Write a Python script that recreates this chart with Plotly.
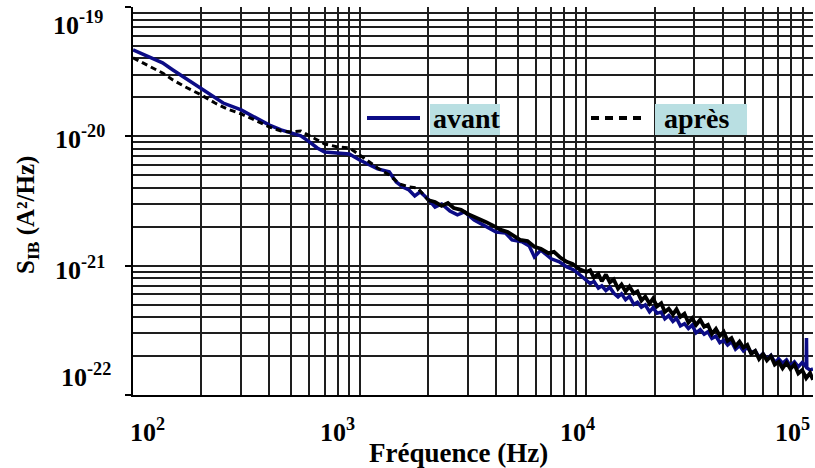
import plotly.graph_objects as go

# ---------------- data ----------------
freq_avant = [100, 110, 120, 135, 150, 170, 200, 220, 250, 300,
              350, 400, 450, 500, 550, 600, 650, 700, 800, 900,
              1000, 1100, 1200, 1350, 1450, 1550, 1650, 1750, 1850, 2000,
              2150, 2300, 2500, 2700, 2900, 3200, 3600, 4000, 4400, 4700,
              5200, 5600, 5900, 6300, 7000, 7600, 8200, 8800, 9500,
              10000, 10400, 10800, 11300, 11700, 12200, 12700, 13200, 13800, 14300,
              14900, 15500, 16200, 16800, 17500, 18200, 19000, 19700, 20500, 21400,
              22200, 23100, 24100, 25000, 26000, 27100, 28200, 29300, 30500, 31800,
              33100, 34400, 35800, 37300, 38800, 40400, 42000, 43700, 45500, 47400,
              49300, 51300, 53400, 55600, 57800, 60200, 62600, 65200, 67800, 70600,
              73400, 76400, 79500, 82800, 86100, 89600, 93300, 93600, 93900, 97100,
              100000]
# S_IB in units of 1e-22 A^2/Hz
s_avant_e22 = [466, 434, 404, 370, 326, 283, 237, 209, 181, 160,
               139, 122, 112, 106, 101, 90.6, 81.3, 75.7, 74.5, 73.1,
               65.6, 60.1, 56.0, 53.1, 44.4, 40.6, 38.5, 34.6, 37.2, 32.8,
               28.4, 30.0, 26.5, 24.7, 26.0, 22.5, 20.3, 18.2, 17.9, 15.8,
               15.3, 14.2, 11.7, 13.2, 11.3, 10.7, 9.77, 9.27, 8.32,
               7.75, 7.26, 7.56, 6.71, 6.99, 6.43, 6.81, 6.14, 5.73, 6.06,
               5.46, 5.78, 5.02, 5.22, 4.78, 4.98, 4.40, 4.74, 4.28, 4.37,
               3.88, 4.11, 3.71, 3.93, 3.42, 3.56, 3.27, 3.47, 3.02, 3.20,
               2.95, 3.08, 2.74, 2.85, 2.54, 2.65, 2.44, 2.59, 2.26, 2.41,
               2.19, 2.34, 2.13, 2.19, 1.96, 2.09, 1.90, 2.03, 1.79, 1.90,
               1.76, 1.87, 1.68, 1.80, 1.65, 1.78, 1.65, 2.76, 1.62, 1.56,
               1.59]

freq_apres = [100, 110, 120, 135, 150, 170, 200, 230, 260, 300,
              350, 400, 450, 500, 550, 600, 650, 700, 800, 900,
              1000, 1100, 1200, 1350, 1500, 1650, 1800, 1900, 2000, 2150,
              2300, 2450, 2600, 2800, 3000, 3300, 3600, 3900, 4200, 4500,
              4800, 5100, 5500, 5900, 6300, 6800, 7200, 7700, 8200, 8700,
              9300,
              10000, 10400, 10800, 11300, 11700, 12200, 12700, 13200, 13800, 14300,
              14900, 15500, 16200, 16800, 17500, 18200, 19000, 19700, 20500, 21400,
              22200, 23100, 24100, 25000, 26000, 27100, 28200, 29300, 30500, 31800,
              33100, 34400, 35800, 37300, 38800, 40400, 42000, 43700, 45500, 47400,
              49300, 51300, 53400, 55600, 57800, 60200, 62600, 65200, 67800, 70600,
              73400, 76400, 79500, 82800, 86100, 89600, 93300, 97100, 100000]
s_apres_e22 = [404, 370, 344, 309, 273, 241, 209, 181, 163, 149,
               132, 118, 110, 108, 110, 101, 93.8, 87.3, 82.8, 81.3,
               71.8, 63.4, 57.0, 50.2, 42.9, 40.6, 39.9, 35.9, 32.2, 31.1,
               29.0, 30.5, 27.9, 27.0, 25.1, 23.4, 21.8, 20.3, 18.9, 18.2,
               17.0, 15.8, 15.5, 14.0, 13.5, 12.5, 12.8, 11.5, 10.7, 10.3,
               9.42,
               8.94, 9.21, 8.09, 8.63, 7.57, 8.53, 7.43, 7.83, 6.66, 7.15,
               6.32, 6.90, 6.10, 6.32, 5.37, 5.77, 5.09, 5.57, 4.84, 5.13,
               4.39, 4.65, 4.20, 4.61, 4.02, 4.25, 3.64, 3.93, 3.48, 3.82,
               3.37, 3.49, 2.97, 3.25, 2.87, 3.08, 2.62, 2.75, 2.38, 2.59,
               2.33, 2.44, 2.08, 2.19, 1.90, 2.07, 1.85, 2.00, 1.72, 1.81,
               1.61, 1.78, 1.59, 1.72, 1.47, 1.56, 1.35, 1.48, 1.31]

x_tick_vals = [1e2, 1e3, 1e4, 1e5]
x_tick_text = ["10<sup>2</sup>", "10<sup>3</sup>", "10<sup>4</sup>", "10<sup>5</sup>"]
y_tick_vals = [1e-19, 1e-20, 1e-21, 1e-22]
y_tick_text = ["10<sup>-19</sup>", "10<sup>-20</sup>", "10<sup>-21</sup>", "10<sup>-22</sup>"]

series_names = ["avant", "après"]
UNIT = 1e-22
# above this frequency the noisy "après" record renders as a continuous band
DENSE_FROM_HZ = 2000

# ---------------- layout helpers ----------------
W, H = 815, 468
L, R, T, B = 133, 2, 7, 73
PW, PH = W - L - R, H - T - B


def px(x):
    return (x - L) / PW


def py(y):
    return (H - B - y) / PH


FONT = "Liberation Serif"
BLUE = "#0c0c86"
GRID = "#1e1e1e"
BOXBG = "#b9dfe2"

s_avant = [v * UNIT for v in s_avant_e22]
s_apres = [v * UNIT for v in s_apres_e22]
split = next(i for i, f in enumerate(freq_apres) if f >= DENSE_FROM_HZ)

fig = go.Figure()
fig.add_trace(go.Scatter(
    x=freq_avant, y=s_avant, mode="lines",
    name=series_names[0], line=dict(color=BLUE, width=3.5), showlegend=False))
fig.add_trace(go.Scatter(
    x=freq_apres[:split + 1], y=s_apres[:split + 1], mode="lines",
    name=series_names[1], legendgroup="apres",
    line=dict(color="black", width=3, dash="6px,4px"), showlegend=False))
fig.add_trace(go.Scatter(
    x=freq_apres[split:], y=s_apres[split:], mode="lines",
    name=series_names[1], legendgroup="apres",
    line=dict(color="black", width=3.8), showlegend=False))

axis_common = dict(
    type="log", showgrid=True, gridcolor=GRID, gridwidth=1.5,
    dtick=1, showticklabels=False, zeroline=False,
    showline=True, linecolor="black", linewidth=2,
    minor=dict(dtick="D1", showgrid=True, gridcolor=GRID, gridwidth=1.5, ticks=""),
)

annotations = []
# x tick labels (placed as in the reference)
x_label_left_px = [128, 318, 558, 773]
for v, t, lx in zip(x_tick_vals, x_tick_text, x_label_left_px):
    annotations.append(dict(
        x=px(lx), y=py(412), xref="paper", yref="paper", xanchor="left", yanchor="top",
        text="<b>" + t + "</b>", showarrow=False,
        font=dict(family=FONT, size=26, color="black")))
# y tick labels
y_label_right_px = [105, 107, 107, 113]
y_label_center_px = [24, 137, 268, 375]
for v, t, rx, cy in zip(y_tick_vals, y_tick_text, y_label_right_px, y_label_center_px):
    annotations.append(dict(
        x=px(rx), y=py(cy), xref="paper", yref="paper", xanchor="right", yanchor="middle",
        text="<b>" + t + "</b>", showarrow=False,
        font=dict(family=FONT, size=26, color="black")))

# axis titles
annotations.append(dict(
    x=px(458), y=py(453), xref="paper", yref="paper", xanchor="center", yanchor="middle",
    text="<b>Fréquence (Hz)</b>", showarrow=False,
    font=dict(family=FONT, size=27, color="black")))
annotations.append(dict(
    x=px(27), y=py(215), xref="paper", yref="paper", xanchor="center", yanchor="middle",
    text="<b>S<sub>IB</sub> (A²/Hz)</b>", showarrow=False, textangle=-90,
    font=dict(family=FONT, size=25, color="black")))

# legend texts
annotations.append(dict(
    x=px(431), y=py(119), xref="paper", yref="paper", xanchor="left", yanchor="middle",
    text="<b>" + series_names[0] + "</b>", showarrow=False,
    font=dict(family=FONT, size=28, color="black")))
annotations.append(dict(
    x=px(662), y=py(119), xref="paper", yref="paper", xanchor="left", yanchor="middle",
    text="<b>" + series_names[1] + "</b>", showarrow=False,
    font=dict(family=FONT, size=28, color="black")))

shapes = [
    dict(type="rect", xref="paper", yref="paper", x0=px(430), x1=px(500), y0=py(135), y1=py(104),
         fillcolor=BOXBG, line=dict(width=0), layer="above"),
    dict(type="rect", xref="paper", yref="paper", x0=px(655), x1=px(747), y0=py(135), y1=py(104),
         fillcolor=BOXBG, line=dict(width=0), layer="above"),
    dict(type="line", xref="paper", yref="paper", x0=px(367), x1=px(420), y0=py(118), y1=py(118),
         line=dict(color=BLUE, width=4), layer="above"),
    dict(type="line", xref="paper", yref="paper", x0=px(591), x1=px(645), y0=py(118), y1=py(118),
         line=dict(color="black", width=4, dash="8px,6px"), layer="above"),
]

fig.update_layout(
    width=W, height=H,
    margin=dict(l=L, r=R, t=T, b=B, pad=0),
    paper_bgcolor="white", plot_bgcolor="white",
    xaxis=dict(axis_common, range=[2, 5], ticks=""),
    yaxis=dict(axis_common, range=[-22, -19], ticks="outside", ticklen=6,
               tickcolor="black", tickwidth=1.5),
    annotations=annotations,
    shapes=shapes,
    showlegend=False,
)

fig.write_html("out.html", config={"displayModeBar": False},
               post_script="document.body.style.margin='0px';")
